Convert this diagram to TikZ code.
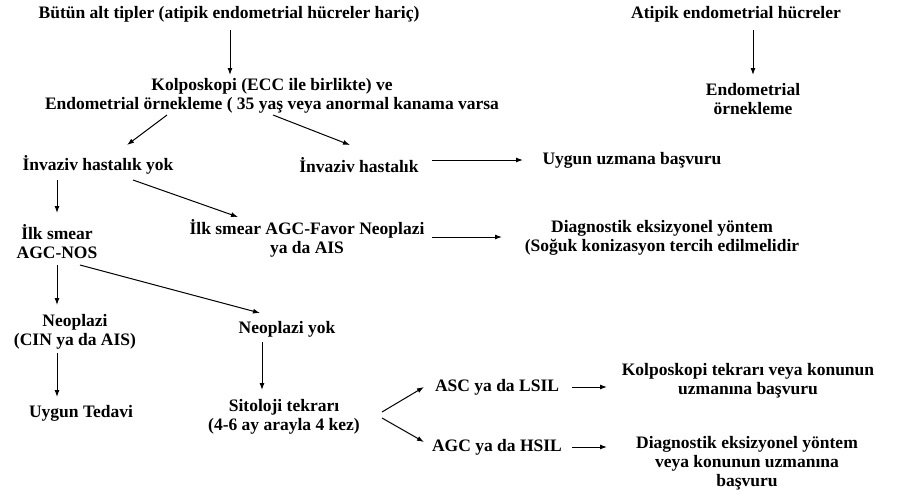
\documentclass[tikz,border=0pt]{standalone}
\usepackage{fontspec}
\setmainfont{Liberation Serif}
\usetikzlibrary{arrows.meta}

\begin{document}
\begin{tikzpicture}[x=1pt,y=-1pt,
   every node/.style={font=\fontsize{17.5}{19}\selectfont\bfseries,align=center,inner sep=1pt},
   arr/.style={draw,line width=1pt,-{Latex[length=7pt,width=5pt]}}]
\useasboundingbox (0,0) rectangle (900,493);
\node (butun) at (229,14) {Bütün alt tipler (atipik endometrial hücreler hariç)};
\node (atipik) at (736,14) {Atipik endometrial hücreler};
\node (kolpo) at (272,96) {Kolposkopi (ECC ile birlikte) ve\\Endometrial örnekleme ( 35 yaş veya anormal kanama varsa};
\node (endo) at (753,99) {Endometrial\\örnekleme};
\node (inyok) at (98,165) {İnvaziv hastalık yok};
\node (inv) at (359,165) {İnvaziv hastalık};
\node (uygun) at (632,160) {Uygun uzmana başvuru};
\node (ilksmear) at (57,242) {İlk smear\\AGC-NOS};
\node (favor) at (307,238) {İlk smear AGC-Favor Neoplazi\\ya da AIS};
\node (diag1) at (662,238) {Diagnostik eksizyonel yöntem\\(Soğuk konizasyon tercih edilmelidir};
\node (neo) at (75,332) {Neoplazi\\(CIN ya da AIS)};
\node (neoyok) at (287,329) {Neoplazi yok};
\node (tedavi) at (81,413) {Uygun Tedavi};
\node (sito) at (284,417) {Sitoloji tekrarı\\(4-6 ay arayla 4 kez)};
\node (asc) at (497,387) {ASC ya da LSIL};
\node (agc) at (497,447) {AGC ya da HSIL};
\node (kolpo2) at (748,381) {Kolposkopi tekrarı veya konunun\\uzmanına başvuru};
\node (diag2) at (747,463) {Diagnostik eksizyonel yöntem\\veya konunun uzmanına\\başvuru};

\draw[arr] ([shift={(1,16)}]butun.center) -- ([shift={(-42,-21)}]kolpo.center);
\draw[arr] ([shift={(17,16)}]atipik.center) -- ([shift={(0,-24)}]endo.center);
\draw[arr] ([shift={(-105,19)}]kolpo.center) -- ([shift={(29,-20)}]inyok.center);
\draw[arr] ([shift={(1,19)}]kolpo.center) -- ([shift={(-9,-20)}]inv.center);
\draw[arr] ([shift={(73,-5)}]inv.center) -- ([shift={(-109,0)}]uygun.center);
\draw[arr] ([shift={(-41,15)}]inyok.center) -- ([shift={(0,-29)}]ilksmear.center);
\draw[arr] ([shift={(35,15)}]inyok.center) -- ([shift={(-69,-21)}]favor.center);
\draw[arr] ([shift={(125,-1)}]favor.center) -- ([shift={(-160,-1)}]diag1.center);
\draw[arr] ([shift={(0,23)}]ilksmear.center) -- ([shift={(-18,-27)}]neo.center);
\draw[arr] ([shift={(23,23)}]ilksmear.center) -- ([shift={(-27,-16)}]neoyok.center);
\draw[arr] ([shift={(-18,21)}]neo.center) -- ([shift={(-24,-16)}]tedavi.center);
\draw[arr] ([shift={(-25,13)}]neoyok.center) -- ([shift={(-22,-27)}]sito.center);
\draw[arr] ([shift={(98,-5)}]sito.center) -- ([shift={(-73,0)}]asc.center);
\draw[arr] ([shift={(98,1)}]sito.center) -- ([shift={(-73,-5)}]agc.center);
\draw[arr] ([shift={(75,0)}]asc.center) -- ([shift={(-141,6)}]kolpo2.center);
\draw[arr] ([shift={(75,0)}]agc.center) -- ([shift={(-140,-16)}]diag2.center);
\end{tikzpicture}
\end{document}
